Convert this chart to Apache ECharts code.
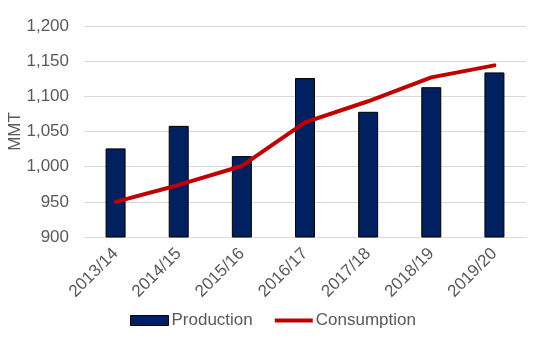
<!DOCTYPE html>
<html><head><meta charset="utf-8">
<script src="https://cdn.jsdelivr.net/npm/echarts@6/dist/echarts.min.js"></script>
<style>html,body{margin:0;padding:0;background:#fff}#c{width:536px;height:343px}</style>
</head><body><div id="c"></div>
<script>
const categories = ['2013/14','2014/15','2015/16','2016/17','2017/18','2018/19','2019/20'];
const production = [1026, 1058, 1015, 1126, 1078, 1113, 1134];
const consumption = [950, 974, 1001, 1063, 1093, 1127, 1144];
const yTicks = {min: 900, max: 1200, interval: 50};

const chart = echarts.init(document.getElementById('c'), null, {renderer: 'canvas'});
const font = 'Liberation Sans, Arial, sans-serif';
chart.setOption({
  animation: false,
  textStyle: {fontFamily: font},
  grid: {left: 84, right: 10, top: 26, bottom: 106, containLabel: false, outerBoundsMode: 'none'},
  legend: {
    bottom: 9, left: 125,
    itemWidth: 38, itemHeight: 10, itemGap: 22,
    textStyle: {fontFamily: font, fontSize: 17, color: '#595959', padding: [0,0,0,-2]},
    data: [
      {name: 'Production', icon: 'rect', itemStyle: {color: '#002060', borderColor: '#000', borderWidth: 1}},
      {name: 'Consumption', icon: 'path://M0,4 L40,4 L40,8 L0,8 Z', itemStyle: {color: '#C00000'}}
    ]
  },
  xAxis: {
    type: 'category', data: categories,
    axisLine: {show: true, lineStyle: {color: '#d9d9d9'}},
    axisTick: {show: false},
    axisLabel: {rotate: 45, fontSize: 17, color: '#595959', fontFamily: font, margin: 14, interval: 0}
  },
  yAxis: {
    type: 'value', min: yTicks.min, max: yTicks.max, interval: yTicks.interval,
    name: 'MMT', nameLocation: 'middle', nameGap: 60, nameRotate: 90, nameMoveOverlap: false,
    nameTextStyle: {fontSize: 17, color: '#595959', fontFamily: font},
    axisLine: {show: false}, axisTick: {show: false},
    axisLabel: {fontSize: 17, color: '#595959', fontFamily: font, margin: 15,
      formatter: v => v.toLocaleString('en-US')},
    splitLine: {lineStyle: {color: '#d9d9d9', width: 1}}
  },
  series: [
    {name: 'Production', type: 'bar', data: production, barWidth: 20,
     itemStyle: {color: '#002060', borderColor: '#000', borderWidth: 1}},
    {name: 'Consumption', type: 'line', data: consumption, symbol: 'none',
     lineStyle: {color: '#C00000', width: 4, cap: 'round'}, itemStyle: {color: '#C00000'}}
  ]
});
</script></body></html>
